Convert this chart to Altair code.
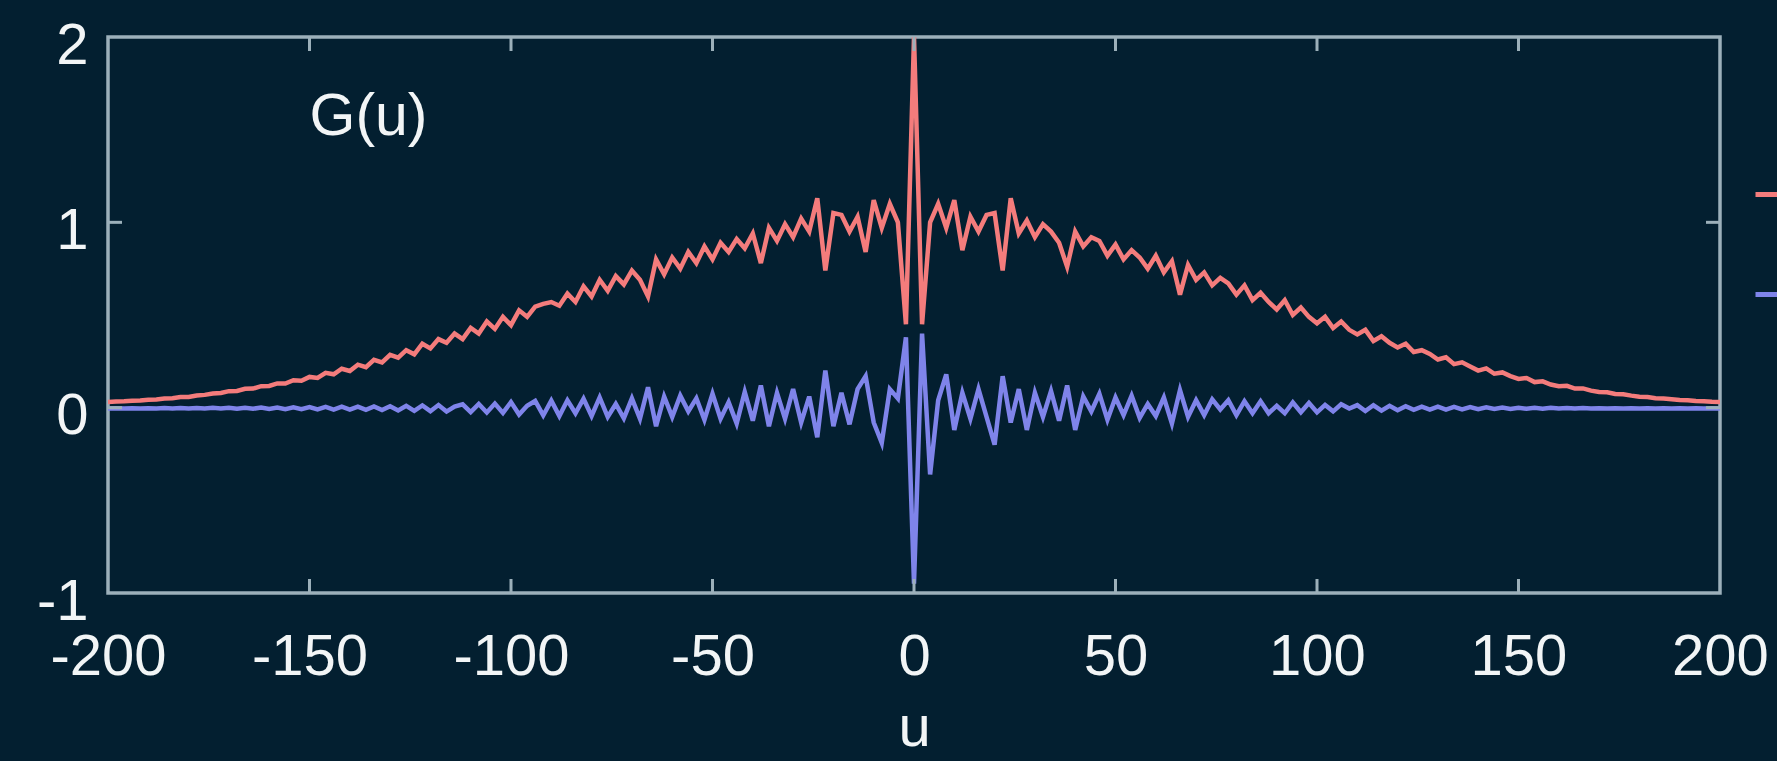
import altair as alt
import pandas as pd

# ---------------- data ----------------
u_values = list(range(-200, 201, 2))

re_g = [
    0.031, 0.033, 0.034, 0.037, 0.039, 0.043, 0.044, 0.049, 0.051, 0.057,
    0.058, 0.066, 0.069, 0.076, 0.079, 0.089, 0.090, 0.102, 0.103, 0.116,
    0.117, 0.131, 0.130, 0.148, 0.145, 0.166, 0.160, 0.188, 0.180, 0.210,
    0.198, 0.232, 0.218, 0.258, 0.244, 0.285, 0.270, 0.310, 0.288, 0.345,
    0.320, 0.370, 0.350, 0.400, 0.370, 0.430, 0.400, 0.465, 0.425, 0.490,
    0.445, 0.525, 0.490, 0.545, 0.560, 0.570, 0.550, 0.615, 0.570, 0.655,
    0.600, 0.690, 0.630, 0.710, 0.665, 0.740, 0.690, 0.600, 0.800, 0.720,
    0.810, 0.750, 0.840, 0.780, 0.870, 0.800, 0.890, 0.840, 0.910, 0.860,
    0.940, 0.780, 0.970, 0.900, 0.990, 0.920, 1.020, 0.950,
    1.130, 0.740, 1.050, 1.040, 0.950, 1.030, 0.840, 1.120, 0.970, 1.100,
    1.000, 0.450,
    2.000, 0.450, 1.000, 1.100, 0.970, 1.120, 0.850, 1.030, 0.950, 1.040,
    1.050, 0.740, 1.130,
    0.940, 1.010, 0.920, 0.990, 0.950, 0.890, 0.760, 0.950, 0.870, 0.920,
    0.900, 0.820, 0.880, 0.800, 0.850, 0.810, 0.750, 0.820, 0.730, 0.790,
    0.610, 0.770, 0.690, 0.730, 0.660, 0.700, 0.670, 0.610, 0.660, 0.580,
    0.620, 0.570, 0.530, 0.580, 0.500, 0.540, 0.490, 0.455, 0.490, 0.430,
    0.465, 0.420, 0.395, 0.420, 0.360, 0.385, 0.350, 0.325, 0.345, 0.300,
    0.310, 0.290, 0.260, 0.272, 0.235, 0.245, 0.222, 0.200, 0.212, 0.183,
    0.190, 0.170, 0.155, 0.160, 0.138, 0.142, 0.125, 0.116, 0.118, 0.103,
    0.104, 0.092, 0.085, 0.083, 0.074, 0.072, 0.065, 0.059, 0.057, 0.051,
    0.049, 0.045, 0.041, 0.040, 0.036, 0.035, 0.032, 0.030,
]

im_g = [
    -0.004, -0.003, -0.004, -0.003, -0.004, -0.003, -0.004, -0.002, -0.004, -0.002,
    -0.004, -0.002, -0.005, -0.001, -0.005, -0.001, -0.006, 0.000, -0.006, 0.001,
    -0.007, 0.001, -0.008, 0.002, -0.008, 0.003, -0.009, 0.004, -0.010, 0.005,
    -0.011, 0.006, -0.012, 0.007, -0.013, 0.008, -0.015, 0.010, -0.017, 0.012,
    -0.019, 0.014, -0.021, 0.006, 0.018, -0.024, 0.020, -0.026, 0.022, -0.028,
    0.030, -0.037, 0.010, 0.036, -0.042, 0.038, -0.045, 0.040, -0.030, 0.048,
    -0.045, 0.055, -0.050, 0.020, -0.058, 0.050, -0.060, 0.110, -0.100, 0.060,
    -0.050, 0.065, -0.020, 0.050, -0.065, 0.075, -0.060, 0.030, -0.085, 0.085,
    -0.070, 0.120, -0.100, 0.080, -0.060, 0.100, -0.080, 0.060, -0.160, 0.200,
    -0.100, 0.080, -0.090, 0.100, 0.170, -0.080, -0.190, 0.100, 0.050, 0.380,
    -0.950, 0.400, -0.360, 0.040, 0.180, -0.120, 0.080, -0.060, 0.100, -0.050,
    -0.200, 0.170, -0.080, 0.100, -0.120, 0.080, -0.050, 0.090, -0.070, 0.120,
    -0.120, 0.060, -0.020, 0.075, -0.065, 0.055, -0.040, 0.065, -0.055, 0.020,
    -0.045, 0.055, -0.085, 0.095, -0.050, 0.040, -0.040, 0.045, -0.010, 0.040,
    -0.040, 0.035, -0.030, 0.035, -0.030, 0.010, -0.030, 0.028, -0.025, 0.025,
    -0.025, 0.015, -0.020, 0.018, -0.005, 0.014, -0.018, 0.013, -0.016, 0.010,
    -0.014, 0.008, -0.012, 0.006, -0.011, 0.005, -0.010, 0.004, -0.009, 0.003,
    -0.008, 0.002, -0.007, 0.001, -0.007, 0.000, -0.006, -0.001, -0.006, -0.001,
    -0.005, -0.002, -0.005, -0.002, -0.005, -0.003, -0.005, -0.003, -0.004, -0.003,
    -0.004, -0.003, -0.004, -0.003, -0.004, -0.003, -0.004, -0.003, -0.004, -0.003,
    -0.004,
]

series_names = ["Re G(u)", "Im G(u)"]
x_ticks = [-200, -150, -100, -50, 0, 50, 100, 150, 200]
y_ticks = [-1, 0, 1, 2]
x_title = "u"
label_text = "G(u)"
label_u = -150
label_y = 1.47

assert len(re_g) == len(u_values) and len(im_g) == len(u_values)

# ---------------- style ----------------
BG = "#031f30"
FRAME = "#9cb0ba"
RED = "#f47c7c"
BLUE = "#7f84ea"
TEXT = "#f2f5f6"
FONT = "Liberation Sans"
W, H = 1612, 556
TL = 14

df = pd.DataFrame({
    "u": u_values + u_values,
    "value": re_g + im_g,
    "series": [series_names[0]] * len(u_values) + [series_names[1]] * len(u_values),
})

xscale = alt.Scale(domain=[x_ticks[0], x_ticks[-1]], nice=False, zero=False)
yscale = alt.Scale(domain=[y_ticks[0], y_ticks[-1]], nice=False, zero=False)

x_axis = alt.Axis(
    values=x_ticks, title=x_title, ticks=False, tickSize=0, domain=False, grid=False,
    labelFontSize=58, labelColor=TEXT, labelFont=FONT, labelPadding=35,
    labelBaseline="top", labelFlush=False, labelOverlap=False,
    labelExpr="'' + datum.value",
    titleFontSize=58, titleColor=TEXT, titleFont=FONT, titleFontWeight="normal",
    titlePadding=13)
y_axis = alt.Axis(
    values=y_ticks, title=None, ticks=False, tickSize=0, domain=False, grid=False,
    labelFontSize=58, labelColor=TEXT, labelFont=FONT, labelPadding=20,
    labelBaseline="middle", labelOffset=9, labelFlush=False, labelOverlap=False,
    labelExpr="'' + datum.value")

lines = alt.Chart(df).mark_line(strokeWidth=4.5, clip=True).encode(
    x=alt.X("u:Q", scale=xscale, axis=x_axis),
    y=alt.Y("value:Q", scale=yscale, axis=y_axis),
    color=alt.Color("series:N", scale=alt.Scale(domain=series_names, range=[RED, BLUE]),
                    legend=alt.Legend(orient="none", legendX=1645, legendY=135, title=None,
                                      symbolType="stroke", symbolSize=1600, symbolStrokeWidth=5,
                                      labelExpr="''", labelFontSize=40,
                                      rowPadding=57, padding=0, labelOffset=0,
                                      direction="vertical")),
)

xt = pd.DataFrame({"u": x_ticks[1:-1]})
yt = pd.DataFrame({"value": y_ticks[1:-1]})
rule_style = dict(color=FRAME, strokeWidth=3)

bottom_ticks = alt.Chart(xt).mark_rule(**rule_style).encode(
    x=alt.X("u:Q", scale=xscale), y=alt.value(H), y2=alt.value(H - TL))
top_ticks = alt.Chart(xt).mark_rule(**rule_style).encode(
    x=alt.X("u:Q", scale=xscale), y=alt.value(0), y2=alt.value(TL))
left_ticks = alt.Chart(yt).mark_rule(**rule_style).encode(
    y=alt.Y("value:Q", scale=yscale), x=alt.value(0), x2=alt.value(TL))
right_ticks = alt.Chart(yt).mark_rule(**rule_style).encode(
    y=alt.Y("value:Q", scale=yscale), x=alt.value(W), x2=alt.value(W - TL))

gdf = pd.DataFrame({"u": [label_u], "value": [label_y], "text": [label_text]})
glabel = alt.Chart(gdf).mark_text(align="left", baseline="alphabetic", fontSize=59,
                                  font=FONT, color=TEXT).encode(
    x=alt.X("u:Q", scale=xscale),
    y=alt.Y("value:Q", scale=yscale),
    text="text:N")

chart = alt.layer(lines, bottom_ticks, top_ticks, left_ticks, right_ticks, glabel).properties(
    width=W, height=H,
    autosize=alt.AutoSizeParams(type="none"),
    padding={"left": 108, "top": 37, "right": 57, "bottom": 168},
).configure(background=BG).configure_view(stroke=FRAME, strokeWidth=3.5)

chart.save("out.html", embed_options={"renderer": "svg", "actions": False})
